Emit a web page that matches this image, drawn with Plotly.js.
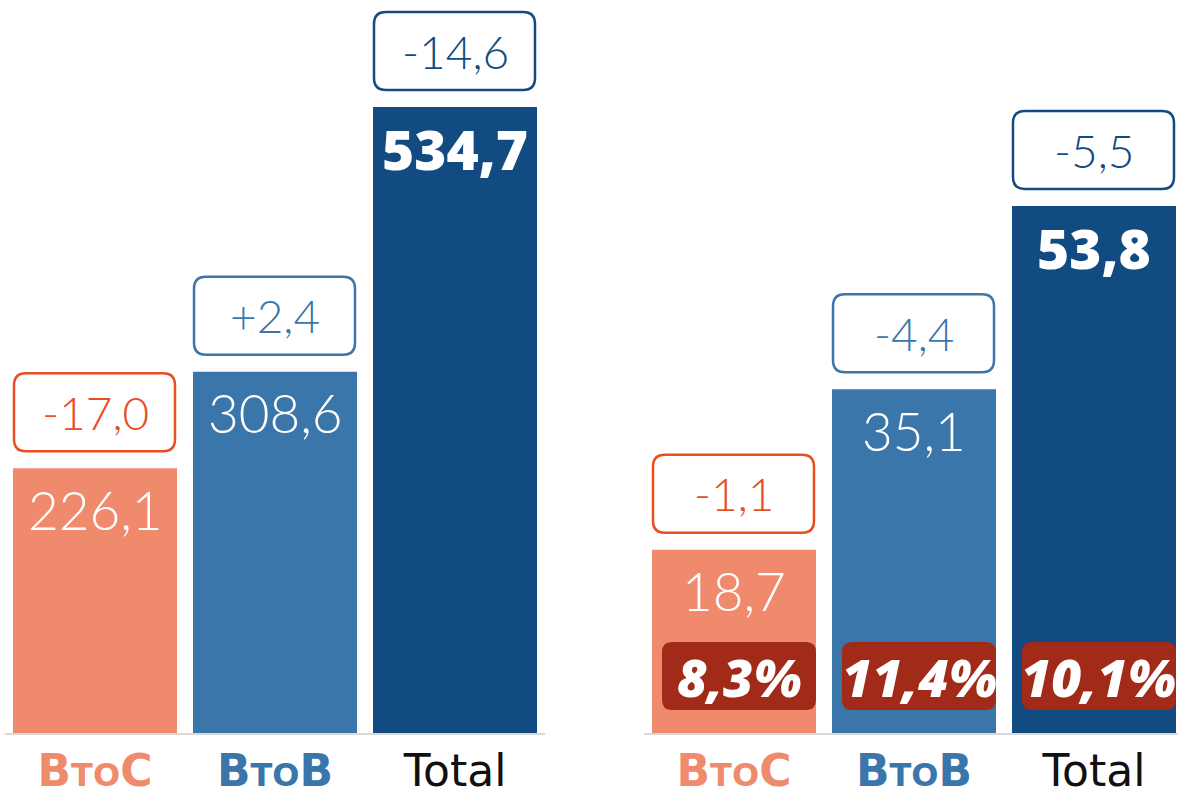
<!DOCTYPE html>
<html>
<head>
<meta charset="utf-8">
<script src="https://cdn.plot.ly/plotly-3.0.1.min.js"></script>
<style>html,body{margin:0;padding:0;background:#fff;}#chart{width:1178px;height:799px;}</style>
</head>
<body>
<div id="chart"></div>
<script>
// ---- data ----
const categories = ['BtoC', 'BtoB', 'Total'];
const revenue = [226.1, 308.6, 534.7];
const revenueDelta = ['-17,0', '+2,4', '-14,6'];
const profit = [18.7, 35.1, 53.8];
const profitDelta = ['-1,1', '-4,4', '-5,5'];
const margin = ['8,3%', '11,4%', '10,1%'];

// ---- styles ----
const barColors = ['#F08A6C', '#3A76AA', '#124B82'];
const deltaColors = ['#E84E1E', '#3A76AA', '#124B82'];
const tickColors = ['#F08A6C', '#3A76AA', '#111111'];
const marginBoxColor = '#A22A19';
const lightFont = 'Lato';
const idx = categories.map((c, i) => i);
const fmt = v => v.toFixed(1).replace('.', ',');

function tickLabel(c, i) {
  if (c.startsWith('Bto')) {
    return "<span style='color:" + tickColors[i] + "'><b>B<span style='font-size:32px'>TO</span>" + c.slice(3) + "</b></span>";
  }
  return "<span style='color:" + tickColors[i] + "'>" + c + "</span>";
}
const tickText = categories.map(tickLabel);

function roundRect(x0, x1, y0, y1, r) {
  return 'M' + (x0 + r) + ',' + y0 + ' L' + (x1 - r) + ',' + y0 +
    ' Q' + x1 + ',' + y0 + ' ' + x1 + ',' + (y0 + r) +
    ' L' + x1 + ',' + (y1 - r) +
    ' Q' + x1 + ',' + y1 + ' ' + (x1 - r) + ',' + y1 +
    ' L' + (x0 + r) + ',' + y1 +
    ' Q' + x0 + ',' + y1 + ' ' + x0 + ',' + (y1 - r) +
    ' L' + x0 + ',' + (y0 + r) +
    ' Q' + x0 + ',' + y0 + ' ' + (x0 + r) + ',' + y0 + ' Z';
}

const traces = [
  {type: 'bar', x: idx, y: revenue, xaxis: 'x', yaxis: 'y',
   marker: {color: barColors}, hoverinfo: 'skip', showlegend: false},
  {type: 'bar', x: idx, y: profit, xaxis: 'x2', yaxis: 'y2',
   marker: {color: barColors}, hoverinfo: 'skip', showlegend: false}
];

const shapes = [];
const annotations = [];

function addPanel(values, deltas, xr, yr) {
  values.forEach((v, i) => {
    shapes.push({type: 'path', xref: xr, yref: yr, xsizemode: 'pixel', ysizemode: 'pixel',
      xanchor: i, yanchor: v, path: roundRect(-81, 80, 17, 95, 12),
      line: {color: deltaColors[i], width: 2.5}, fillcolor: '#ffffff', layer: 'above'});
    annotations.push({xref: xr, yref: yr, x: i, y: v, yshift: 56, showarrow: false,
      text: deltas[i], font: {family: lightFont, size: 46, color: deltaColors[i], weight: 300},
      xanchor: 'center', yanchor: 'middle'});
    const bold = categories[i] === 'Total';
    annotations.push({xref: xr, yref: yr, x: i, y: v, yshift: -41, showarrow: false,
      text: fmt(v), font: {family: bold ? 'Open Sans' : lightFont, size: bold ? 55 : 53, color: '#ffffff', weight: bold ? 800 : 300},
      xanchor: 'center', yanchor: 'middle'});
  });
}
addPanel(revenue, revenueDelta, 'x', 'y');
addPanel(profit, profitDelta, 'x2', 'y2');

margin.forEach((m, i) => {
  shapes.push({type: 'path', xref: 'x2', yref: 'y2', xsizemode: 'pixel', ysizemode: 'pixel',
    xanchor: i, yanchor: 0, path: roundRect(-72, 82, 23, 91, 10),
    line: {width: 0}, fillcolor: marginBoxColor, layer: 'above'});
  annotations.push({xref: 'x2', yref: 'y2', x: i, y: 0, yshift: 57, xshift: 5, showarrow: false,
    text: '<i>' + m + '</i>', font: {family: 'Open Sans', size: 52, color: '#ffffff', weight: 800},
    xanchor: 'center', yanchor: 'middle'});
});

const xCommon = {
  tickmode: 'array', tickvals: idx, ticktext: tickText, ticks: '',
  showline: true, linecolor: '#d9d9d9', linewidth: 2, showgrid: false, zeroline: false,
  tickfont: {family: 'DejaVu Sans', size: 44, color: '#111111'}, ticklabelstandoff: -2, fixedrange: true
};
const yCommon = {visible: false, showgrid: false, zeroline: false, fixedrange: true};

const layout = {
  width: 1178, height: 799,
  margin: {l: 0, r: 0, t: 0, b: 66, pad: 0},
  paper_bgcolor: '#ffffff', plot_bgcolor: '#ffffff',
  bargap: 16 / 180,
  xaxis: Object.assign({}, xCommon, {domain: [5 / 1178, 545 / 1178], range: [-0.5, 2.5], anchor: 'y'}),
  xaxis2: Object.assign({}, xCommon, {domain: [644 / 1178, 1], range: [-0.5, 2.4667], anchor: 'y2'}),
  yaxis: Object.assign({}, yCommon, {range: [0, 626.1], anchor: 'x'}),
  yaxis2: Object.assign({}, yCommon, {range: [0, 74.83], anchor: 'x2'}),
  shapes: shapes,
  annotations: annotations,
  showlegend: false
};

Plotly.newPlot('chart', traces, layout, {displayModeBar: false, staticPlot: true});
</script>
</body>
</html>
